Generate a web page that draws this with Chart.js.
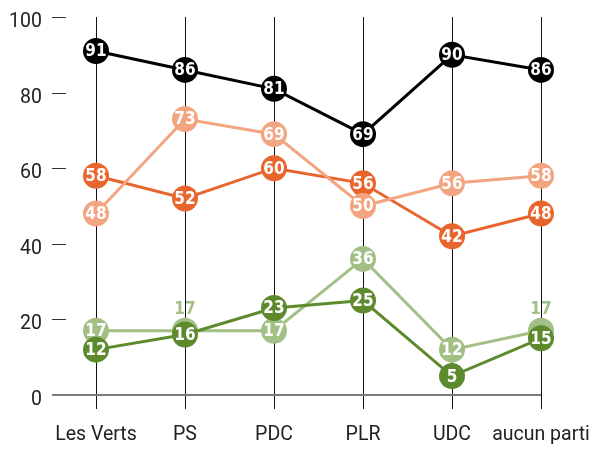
<!DOCTYPE html>
<html>
<head>
<meta charset="utf-8">
<script src="https://cdn.jsdelivr.net/npm/chart.js@4"></script>
<style>
html, body { margin: 0; padding: 0; background: #fff; }
#wrap { width: 597px; height: 449px; }
</style>
</head>
<body>
<div id="wrap"><canvas id="chart"></canvas></div>
<script>
// data
const categories = ['Les Verts', 'PS', 'PDC', 'PLR', 'UDC', 'aucun parti'];
const blackValues = [91, 86, 81, 69, 90, 86];
const lightOrangeValues = [48, 73, 69, 50, 56, 58];
const darkOrangeValues = [58, 52, 60, 56, 42, 48];
const darkGreenValues = [12, 16, 23, 25, 5, 15];
const lightGreenValues = [17, 17, 17, 36, 12, 17];
const yTicks = [0, 20, 40, 60, 80, 100];

const colors = {
  black: '#000000',
  lightOrange: '#f3a480',
  darkOrange: '#e8652d',
  darkGreen: '#5d8a2c',
  lightGreen: '#a2bf86'
};
const axisFont = '19.5px Roboto, sans-serif';

function series(values, color) {
  return {
    data: values,
    borderColor: color,
    backgroundColor: color,
    borderWidth: 3,
    pointRadius: 13,
    pointHoverRadius: 13,
    pointBorderWidth: 0,
    pointBackgroundColor: color,
    tension: 0
  };
}

// vertical category lines, y tick marks, base line and the axis texts
// (tick padding in chart.js eats into the plot area, so texts are drawn here)
const frame = {
  id: 'frame',
  beforeDatasetsDraw(chart) {
    const ctx = chart.ctx, x = chart.scales.x, y = chart.scales.y;
    const top = y.getPixelForValue(100), base = y.getPixelForValue(0);
    ctx.save();
    ctx.strokeStyle = '#111';
    ctx.lineWidth = 1;
    categories.forEach((c, i) => {
      const px = Math.round(x.getPixelForValue(i)) + 0.5;
      ctx.beginPath();
      ctx.moveTo(px, top);
      ctx.lineTo(px, base + 14);
      ctx.stroke();
    });
    ctx.strokeStyle = '#333';
    yTicks.forEach(t => {
      if (t === 0) return;
      const py = Math.round(y.getPixelForValue(t)) + 0.5;
      ctx.beginPath();
      ctx.moveTo(52, py);
      ctx.lineTo(66, py);
      ctx.stroke();
    });
    ctx.strokeStyle = '#7a7a7a';
    ctx.lineWidth = 2;
    ctx.beginPath();
    ctx.moveTo(52, base);
    ctx.lineTo(x.getPixelForValue(categories.length - 1), base);
    ctx.stroke();

    ctx.fillStyle = '#222';
    ctx.font = axisFont;
    ctx.textBaseline = 'alphabetic';
    ctx.textAlign = 'right';
    yTicks.forEach(t => ctx.fillText(String(t), 42, y.getPixelForValue(t) + 10));
    ctx.textAlign = 'center';
    categories.forEach((c, i) => ctx.fillText(c, x.getPixelForValue(i), base + 45));
    ctx.restore();
  }
};

// value labels drawn right after each dataset so later ones cover them
const valueLabels = {
  id: 'valueLabels',
  afterDatasetDraw(chart, args) {
    const ctx = chart.ctx;
    const ds = chart.data.datasets[args.index];
    ctx.save();
    ctx.font = 'bold 17px "DejaVu Sans Condensed", sans-serif';
    ctx.textAlign = 'center';
    ctx.textBaseline = 'middle';
    args.meta.data.forEach((pt, i) => {
      // hidden under a point drawn on top? put label above in own colour
      let covered = false;
      for (let k = 0; k < args.index; k++) {
        const other = chart.getDatasetMeta(k).data[i];
        if (Math.abs(other.y - pt.y) < 12) covered = true;
      }
      if (covered) {
        ctx.fillStyle = ds.borderColor;
        ctx.fillText(ds.data[i], pt.x, pt.y - 21);
      } else {
        ctx.fillStyle = '#fff';
        ctx.fillText(ds.data[i], pt.x, pt.y + 1);
      }
    });
    ctx.restore();
  }
};

new Chart(document.getElementById('chart'), {
  type: 'line',
  data: {
    labels: categories,
    datasets: [
      series(blackValues, colors.black),
      series(lightOrangeValues, colors.lightOrange),
      series(darkOrangeValues, colors.darkOrange),
      series(darkGreenValues, colors.darkGreen),
      series(lightGreenValues, colors.lightGreen)
    ]
  },
  options: {
    responsive: true,
    maintainAspectRatio: false,
    animation: false,
    layout: { padding: { top: 17, right: 56, bottom: 0, left: 0 } },
    plugins: { legend: { display: false }, tooltip: { enabled: false } },
    scales: {
      x: {
        type: 'category',
        offset: false,
        grid: { display: false, drawTicks: false },
        border: { display: false },
        ticks: { display: false, autoSkip: false },
        afterFit(scale) { scale.height = 54; }
      },
      y: {
        min: 0,
        max: 100,
        grid: { display: false, drawTicks: false },
        border: { display: false },
        ticks: { display: false, stepSize: 20 },
        afterFit(scale) { scale.width = 96; }
      }
    }
  },
  plugins: [frame, valueLabels]
});
</script>
</body>
</html>
